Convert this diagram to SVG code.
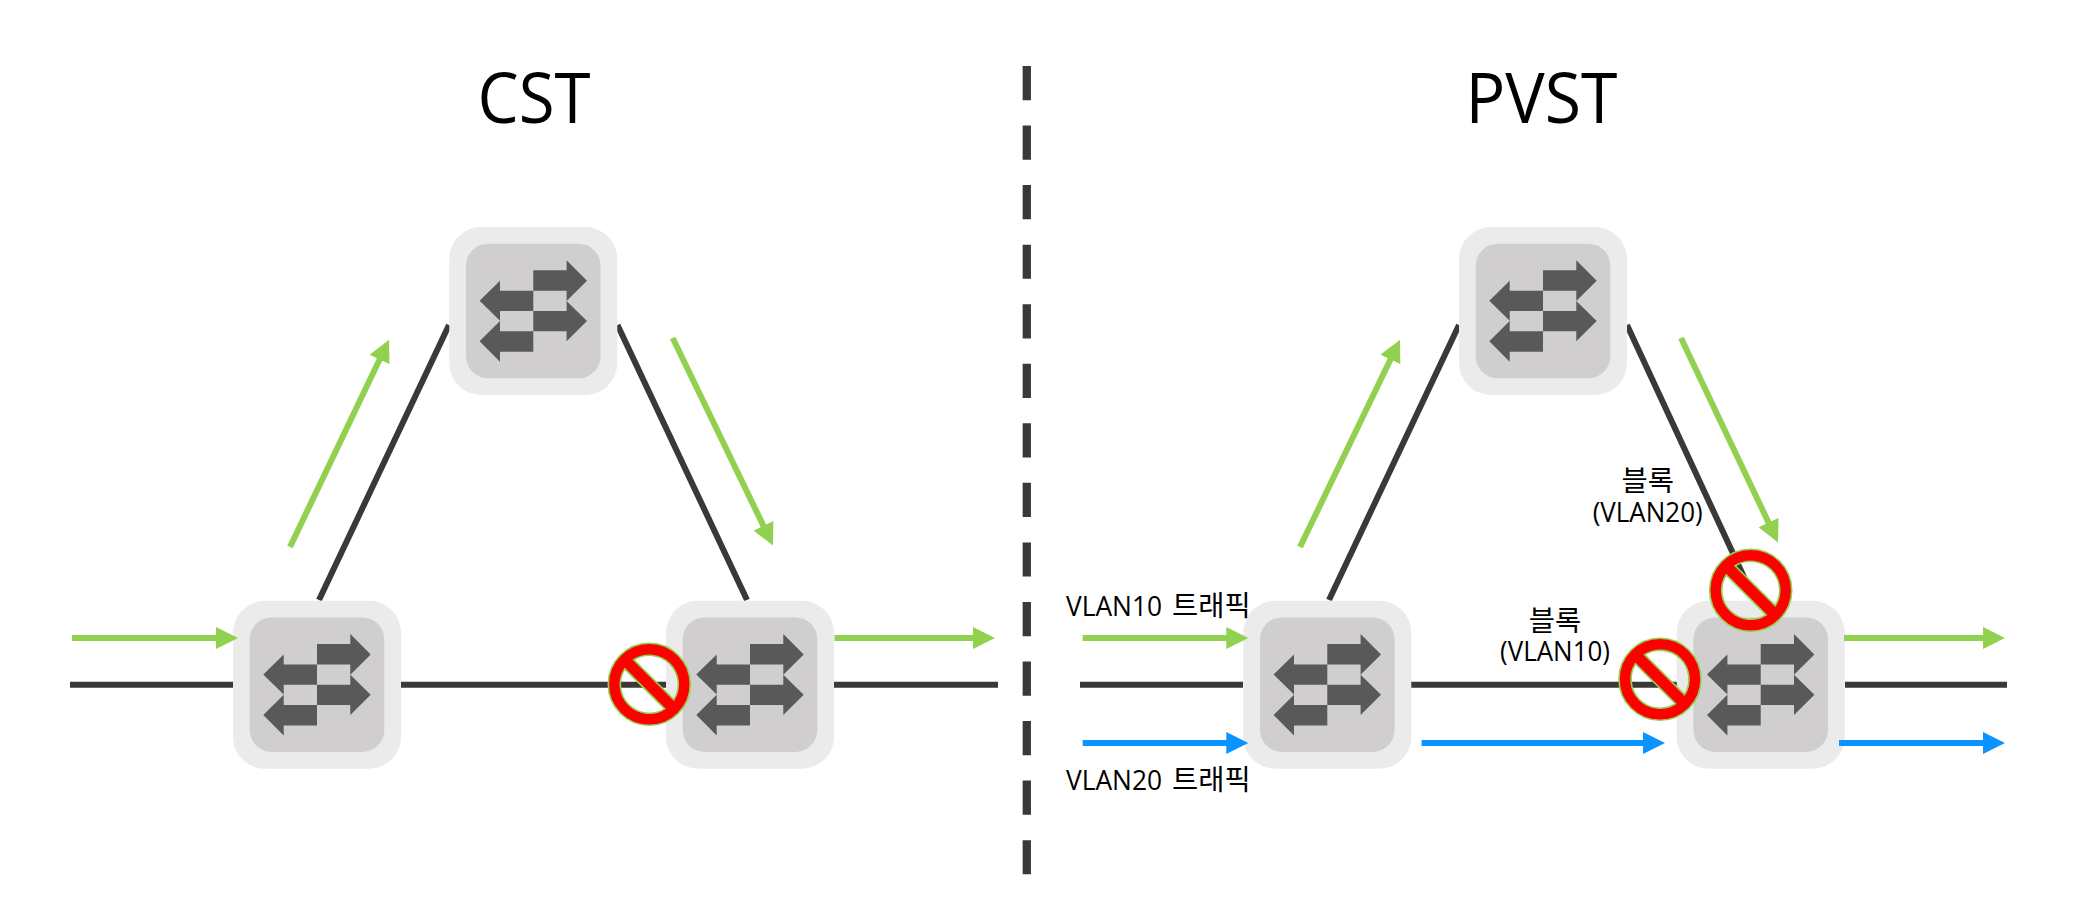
<svg xmlns="http://www.w3.org/2000/svg" xmlns:xlink="http://www.w3.org/1999/xlink" width="2097" height="919" viewBox="0 0 2097 919">
<style>
.l{stroke:#3b3838;stroke-width:6;fill:none}
.g{stroke:#92d050;stroke-width:6;fill:none;marker-end:url(#ga)}
.b{stroke:#0b93ff;stroke-width:6;fill:none;marker-end:url(#ba)}
.t{font-family:"Open Sans","Noto Sans CJK KR",sans-serif;fill:#000}
.s{font-size:28px;text-anchor:middle}
.v{font-size:28px}
.k{font-size:28.5px;font-family:"Noto Sans CJK KR",sans-serif}
.h{font-size:69px;text-anchor:middle}
</style>
<defs>
<marker id="ga" markerUnits="userSpaceOnUse" markerWidth="24" markerHeight="24" refX="2" refY="11" orient="auto"><path d="M0 0L22 11L0 22Z" fill="#92d050"/></marker>
<marker id="ba" markerUnits="userSpaceOnUse" markerWidth="24" markerHeight="24" refX="2" refY="11" orient="auto"><path d="M0 0L22 11L0 22Z" fill="#0b93ff"/></marker>
<g id="sw">
<rect x="-84" y="-84" width="168" height="168" rx="32" fill="#ebebeb"/>
<rect x="-67.3" y="-67.3" width="134.6" height="134.6" rx="22" fill="#d0cece"/>
<path fill="#595959" d="M0 -40.7H33.3V-50.7L53.7 -30.3L33.3 -10V-20.3H0ZM0 0H33.3V-10L53.7 10L33.3 30.3V20.3H0ZM0 -20.3V0H-33.3V9.7L-53.7 -10.3L-33.3 -30.3V-20.3ZM0 20.3V40.7H-33.3V50.7L-53.7 30.3L-33.3 10V20.3Z"/>
</g>
<path id="no" fill="#ff0000" fill-rule="evenodd" stroke="#92d050" stroke-width="1.6" d="M-41 0A41 41 0 1 1 41 0A41 41 0 1 1 -41 0ZM-15.47 -24.53A29 29 0 0 1 24.53 15.47ZM15.47 24.53A29 29 0 0 1 -24.53 -15.47Z"/>
</defs>
<rect width="2097" height="919" fill="#fff"/>
<g id="connectors">
<path class="l" d="M70 684.7H233M401 684.7H666M834 684.7H998"/>
<path class="l" d="M449 325L319 600M617.5 325L747 600"/>
<path class="l" d="M1080 684.7H1243M1411 684.7H1677M1845 684.7H2007"/>
<path class="l" d="M1459 325L1329 600M1627 325L1750 590"/>
<path class="l" stroke-dasharray="34.2 25.35" style="stroke-width:8.3" d="M1026.8 66V874.3"/>
</g>
<g id="cst-top"><use xlink:href="#sw" href="#sw" x="533.3" y="311"/></g>
<g id="cst-left"><use xlink:href="#sw" href="#sw" x="317" y="684.7"/></g>
<g id="cst-right"><use xlink:href="#sw" href="#sw" x="750" y="684.7"/></g>
<g id="pvst-top"><use xlink:href="#sw" href="#sw" x="1543" y="311"/></g>
<g id="pvst-left"><use xlink:href="#sw" href="#sw" x="1327.3" y="684.7"/></g>
<g id="pvst-right"><use xlink:href="#sw" href="#sw" x="1760.7" y="684.7"/></g>
<g id="traffic-arrows">
<path class="g" d="M72 638H218"/>
<path class="g" d="M834.5 638H975"/>
<path class="g" d="M290 547L380.4 357.7"/>
<path class="g" d="M672.7 338L764.3 527.6"/>
<path class="g" d="M1082.7 638H1228.3"/>
<path class="g" d="M1844 638H1985"/>
<path class="g" d="M1300 547L1391.3 357.7"/>
<path class="g" d="M1681 338L1769.4 524.4"/>
<path class="b" d="M1082.7 743H1228.3"/>
<path class="b" d="M1421.6 743H1645"/>
<path class="b" d="M1839 743H1985"/>
</g>
<g id="block-cst"><use xlink:href="#no" href="#no" x="649.3" y="684.3"/></g>
<g id="block-vlan10"><use xlink:href="#no" href="#no" x="1660" y="679.2"/></g>
<g id="block-vlan20"><use xlink:href="#no" href="#no" x="1750.7" y="590.3"/></g>
<g id="labels">
<text class="t h" x="534" y="122.7" textLength="113" lengthAdjust="spacingAndGlyphs">CST</text>
<text class="t h" x="1541.5" y="122.7" textLength="152" lengthAdjust="spacingAndGlyphs">PVST</text>
<text class="t v" x="1066" y="616"><tspan textLength="96" lengthAdjust="spacingAndGlyphs">VLAN10</tspan> <tspan class="k" x="1172">트래픽</tspan></text>
<text class="t v" x="1066" y="790"><tspan textLength="96" lengthAdjust="spacingAndGlyphs">VLAN20</tspan> <tspan class="k" x="1172">트래픽</tspan></text>
<text class="t s"><tspan class="k" x="1647.7" y="491">블록</tspan><tspan x="1647.7" y="522" textLength="110" lengthAdjust="spacingAndGlyphs">(VLAN20)</tspan></text>
<text class="t s"><tspan class="k" x="1555" y="631">블록</tspan><tspan x="1555" y="661" textLength="110" lengthAdjust="spacingAndGlyphs">(VLAN10)</tspan></text>
</g>
</svg>
